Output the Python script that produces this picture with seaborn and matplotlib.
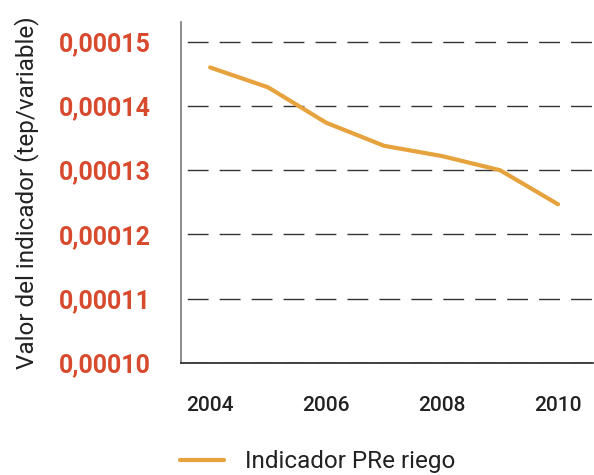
import matplotlib
matplotlib.use("Agg")
import matplotlib.pyplot as plt
import matplotlib.ticker as mticker
import seaborn as sns
import pandas as pd

# Indicator values per year (tep/variable)
years = [2004, 2005, 2006, 2007, 2008, 2009, 2010]
indicador = [0.0001460, 0.0001429, 0.0001374, 0.0001338, 0.0001322, 0.0001300, 0.0001247]
year_labels = [2004, 2006, 2008, 2010]
y_ticks = [0.00010, 0.00011, 0.00012, 0.00013, 0.00014, 0.00015]
serie = "Indicador PRe riego"

df = pd.DataFrame({"Año": years, "Valor": indicador, "Serie": serie})

sns.set_theme(style="white")
plt.rcParams["font.family"] = ["Roboto", "DejaVu Sans"]

RED = "#d84a2e"
ORANGE = "#e6a23c"
TEXT = "#222222"

fig = plt.figure(figsize=(5.94, 4.75), dpi=100)
ax = fig.add_axes([0.305, 0.236, 0.693, 0.718])

sns.lineplot(data=df, x="Año", y="Valor", hue="Serie", palette=[ORANGE],
             linewidth=3.0, ax=ax, legend=False)

ax.set_xlim(2003.5, 2010.6)
ax.set_ylim(0.00010, 0.0001531)

# y axis: red labels with comma decimal separator, dashed grid
ax.set_yticks(y_ticks)
ax.yaxis.set_major_formatter(mticker.FuncFormatter(lambda v, p: f"{v:.5f}".replace(".", ",")))
ax.tick_params(axis="y", which="major", direction="out", length=10, width=1,
               color="#555555", labelcolor=RED, labelsize=18, pad=12)
for lbl in ax.get_yticklabels():
    lbl.set_fontweight("bold")
ax.yaxis.grid(True, color="#333333", linewidth=1.0, linestyle=(18.5, (15, 8)))
ax.xaxis.grid(False)

# x axis: tick marks between years, labels every second year
ax.set_xticks([y + 0.5 for y in years])
ax.set_xticklabels([])
ax.xaxis.set_minor_locator(mticker.FixedLocator(year_labels))
ax.xaxis.set_minor_formatter(mticker.FixedFormatter([str(y) for y in year_labels]))
ax.tick_params(axis="x", which="major", direction="out", length=10, width=1, color="#555555")
ax.tick_params(axis="x", which="minor", length=0, labelsize=15, labelcolor=TEXT, pad=24)
for lbl in ax.get_xticklabels(minor=True):
    lbl.set_fontweight("medium")

for side in ("top", "right"):
    ax.spines[side].set_visible(False)
ax.spines["left"].set_color("#777777")
ax.spines["left"].set_linewidth(1.2)
ax.spines["bottom"].set_color("#222222")
ax.spines["bottom"].set_linewidth(1.2)

ax.set_xlabel("")
ax.set_ylabel("Valor del indicador (tep/variable)", fontsize=17.5, color=TEXT,
              labelpad=14, fontweight="normal")

# legend below the plot
handle = plt.Line2D([], [], color=ORANGE, linewidth=3.0)
fig.legend([handle], [serie], loc="center", bbox_to_anchor=(0.535, 0.028),
           frameon=False, fontsize=17.5, handlelength=1.8, handletextpad=0.9,
           labelcolor=TEXT)

fig.savefig("out.png", dpi=100)
